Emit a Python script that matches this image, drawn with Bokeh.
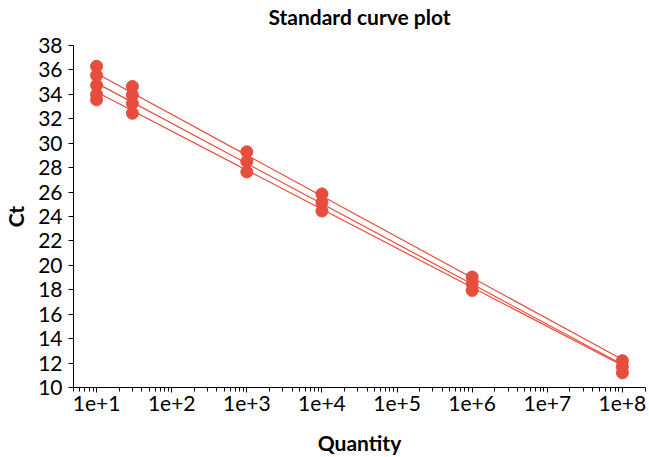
from bokeh.plotting import figure
from bokeh.models import FixedTicker, Range1d, Title
from bokeh.embed import file_html
from bokeh.resources import INLINE

# ---- data ----
quantity = [10, 30, 1000, 10000, 1000000, 100000000]
ct_a = [35.55, 34.65, 29.3, 25.85, 19.05, 12.2]
ct_b = [34.75, 33.95, 28.5, 25.15, 18.5, 11.7]
ct_c = [34.0, 33.25, 27.65, 24.45, 17.95, 11.2]
extra_quantity = [10, 10, 30]
extra_ct = [36.3, 33.55, 32.45]

fit_quantity = [10, 100000000]
fit_a = [35.7, 12.3]
fit_b = [34.92, 11.88]
fit_c = [34.19, 11.8]

x_ticks = [10, 100, 1000, 10000, 100000, 1000000, 10000000, 100000000]
x_tick_labels = ["1e+1", "1e+2", "1e+3", "1e+4", "1e+5", "1e+6", "1e+7", "1e+8"]
y_ticks = [10, 12, 14, 16, 18, 20, 22, 24, 26, 28, 30, 32, 34, 36, 38]

RED = "#e74c3c"
FONT = "Lato"

p = figure(width=649, height=457, x_axis_type="log",
           x_range=Range1d(4.93, 2.03e8), y_range=Range1d(10, 38),
           output_backend="svg", toolbar_location=None,
           min_border_left=73, min_border_right=4, min_border_top=45, min_border_bottom=70)

# spacer between frame and title (closest to frame), then the real title
spacer = Title(text=" ", text_font_size="1px", standoff=14)
p.add_layout(spacer, "above")
title = Title(text="Standard curve plot", align="center", text_font=FONT,
              text_font_size="21px", text_font_style="bold", text_color="#000000",
              standoff=0)
p.add_layout(title, "above")

p.outline_line_color = None
p.xgrid.visible = False
p.ygrid.visible = False

for fy in (fit_a, fit_b, fit_c):
    p.line(fit_quantity, fy, line_color=RED, line_width=1.2)

for cy in (ct_a, ct_b, ct_c):
    p.scatter(quantity, cy, size=12, fill_color=RED, line_color=RED)
p.scatter(extra_quantity, extra_ct, size=12, fill_color=RED, line_color=RED)

minor = []
for k in range(0, 9):
    for m in range(2, 10):
        minor.append(m * 10 ** k)

xa = p.xaxis[0]
xa.ticker = FixedTicker(ticks=x_ticks, minor_ticks=minor)
xa.major_label_overrides = {float(t): l for t, l in zip(x_ticks, x_tick_labels)}
xa.axis_label = "Quantity"

ya = p.yaxis[0]
ya.ticker = FixedTicker(ticks=y_ticks)
ya.axis_label = "Ct"

for ax in (xa, ya):
    ax.axis_line_color = "#000000"
    ax.major_tick_line_color = "#000000"
    ax.minor_tick_line_color = "#000000"
    ax.major_tick_in = 0
    ax.major_tick_out = 5
    ax.minor_tick_in = 0
    ax.minor_tick_out = 4
    ax.major_label_text_font = FONT
    ax.major_label_text_font_size = "21px"
    ax.major_label_text_color = "#000000"
    ax.axis_label_text_font = FONT
    ax.axis_label_text_font_size = "21px"
    ax.axis_label_text_font_style = "bold"
    ax.axis_label_text_color = "#000000"
ya.minor_tick_line_color = None
ya.major_label_standoff = 6
ya.axis_label_standoff = 7
xa.major_label_standoff = 3
xa.axis_label_standoff = 16

open("out.html", "w").write(file_html(p, INLINE))
